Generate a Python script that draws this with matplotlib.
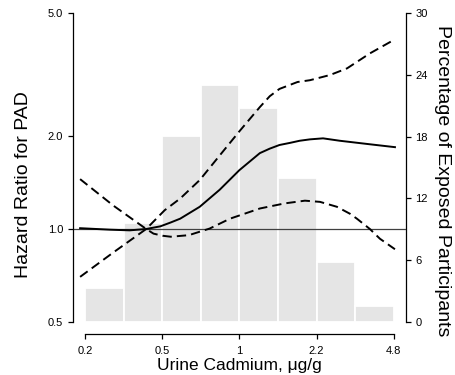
import matplotlib
matplotlib.use("Agg")
import matplotlib.pyplot as plt
import numpy as np

# ---- data ----
cadmium = [0.20, 0.27, 0.33, 0.39, 0.45, 0.50, 0.55, 0.67, 0.82, 1.00, 1.23, 1.36, 1.50, 1.67, 1.84, 2.04, 2.33, 2.76, 3.74, 4.82]
hr      = [1.006, 0.995, 0.99, 1.0, 1.02, 1.05, 1.08, 1.18, 1.34, 1.55, 1.76, 1.82, 1.87, 1.90, 1.93, 1.95, 1.965, 1.93, 1.88, 1.84]

cad_upper = [0.20, 0.28, 0.39, 0.47, 0.55, 0.67, 0.82, 1.00, 1.23, 1.36, 1.50, 1.80, 2.04, 2.50, 2.97, 3.74, 4.82]
hr_upper  = [0.70, 0.84, 1.00, 1.15, 1.255, 1.44, 1.73, 2.07, 2.48, 2.69, 2.84, 2.99, 3.03, 3.15, 3.31, 3.70, 4.11]

cad_lower = [0.20, 0.28, 0.39, 0.42, 0.46, 0.50, 0.60, 0.74, 0.91, 1.23, 1.58, 1.94, 2.26, 2.68, 3.06, 3.28, 3.74, 4.14, 4.82]
hr_lower  = [1.45, 1.19, 1.00, 0.966, 0.951, 0.944, 0.955, 1.003, 1.08, 1.165, 1.21, 1.235, 1.224, 1.18, 1.12, 1.08, 1.0, 0.93, 0.86]

bin_edges = [0.2102, 0.3104, 0.4585, 0.6771, 1.0, 1.477, 2.181, 3.221, 4.757]
pct_exposed = [3.3, 9.6, 18.1, 23.0, 20.8, 14.0, 5.8, 1.6]

x_ticks = [2 ** -2.25, 2 ** -1.125, 1.0, 2 ** 1.125, 2 ** 2.25]
x_ticklabels = ["0.2", "0.5", "1", "2.2", "4.8"]
y_ticks = [0.5, 1.0, 2.0, 5.0]
y_ticklabels = ["0.5", "1.0", "2.0", "5.0"]
y2_ticks = [0, 6, 12, 18, 24, 30]

# ---- figure ----
plt.rcParams['font.family'] = ['Liberation Sans', 'DejaVu Sans']
fig = plt.figure(figsize=(4.56, 3.75), dpi=100)
ax = fig.add_axes([72.7 / 456, 41 / 375, (406 - 72.7) / 456, (334 - 0.6) / 375])
ax2 = ax.twinx()

# histogram on right axis
widths = np.diff(bin_edges)
ax2.bar(bin_edges[:-1], pct_exposed, width=widths, align='edge',
        color='#e5e5e5', edgecolor='white', linewidth=1.3)
ax2.set_ylim(-1.165, 31.2)
ax2.set_yticks(y2_ticks)
ax2.set_yticklabels([str(t) for t in y2_ticks])

# curves on left axis
ax.set_zorder(ax2.get_zorder() + 1)
ax.patch.set_visible(False)
ax.set_xscale('log', base=2)
ax.set_yscale('log')
ax.axhline(1.0, color='#404040', linewidth=0.9)
ax.plot(cadmium, hr, color='black', linewidth=1.4, solid_joinstyle='round')
ax.plot(cad_upper, hr_upper, color='black', linewidth=1.4, dashes=(4.8, 2.6))
ax.plot(cad_lower, hr_lower, color='black', linewidth=1.4, dashes=(4.8, 2.6))

ax.set_xlim(2 ** -2.43, 2 ** 2.43)
ax2.set_xlim(2 ** -2.43, 2 ** 2.43)
ax.set_ylim(0.4573, 5.484)

ax.set_xticks(x_ticks)
ax.set_xticklabels(x_ticklabels)
ax.xaxis.set_minor_locator(matplotlib.ticker.NullLocator())
ax.set_yticks(y_ticks)
ax.set_yticklabels(y_ticklabels)
ax.yaxis.set_minor_locator(matplotlib.ticker.NullLocator())

ax.spines['top'].set_visible(False)
ax2.spines['top'].set_visible(False)
ax.spines['right'].set_visible(False)
ax2.spines['left'].set_visible(False)
ax2.spines['bottom'].set_visible(False)
ax.spines['left'].set_bounds(0.5, 5.0)
ax.spines['bottom'].set_bounds(x_ticks[0], x_ticks[-1])
ax2.spines['right'].set_bounds(0, 30)
for a in (ax, ax2):
    for sp in a.spines.values():
        sp.set_linewidth(0.9)

ax.tick_params(axis='y', which='major', direction='out', length=3.3, width=0.9,
               labelsize=8, pad=3.5)
ax.tick_params(axis='x', which='major', direction='out', length=3.3, width=0.9,
               labelsize=8, pad=5)
ax2.tick_params(axis='y', which='major', direction='out', length=3.3, width=0.9,
                labelsize=8, pad=3.5)
ax2.tick_params(axis='x', which='both', bottom=False, labelbottom=False)

ax_w = 406 - 72.7
ax_h = 334 - 0.6
ax.set_xlabel("Urine Cadmium, \u03bcg/g", fontsize=12.5, labelpad=2)
ax.set_ylabel("Hazard Ratio for PAD", fontsize=14)
ax.yaxis.label.set_va('center')
ax.yaxis.label.set_ha('center')
ax.yaxis.set_label_coords((24 - 72.7) / ax_w, (334 - 185) / ax_h)
ax2.set_ylabel("Percentage of Exposed Participants", fontsize=14, rotation=-90)
ax2.yaxis.label.set_va('center')
ax2.yaxis.label.set_ha('center')
ax2.yaxis.set_label_coords((442 - 72.7) / ax_w, (334 - 181) / ax_h)

fig.savefig("out.png", dpi=100)
